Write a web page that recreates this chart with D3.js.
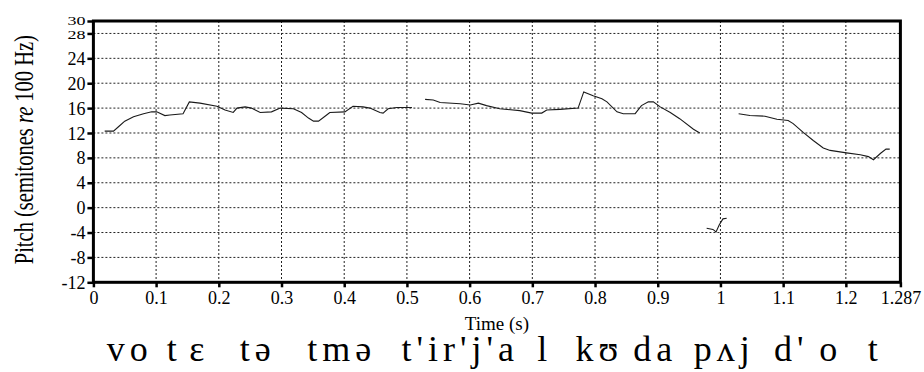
<!DOCTYPE html>
<html>
<head>
<meta charset="utf-8">
<script src="https://cdn.jsdelivr.net/npm/d3@7"></script>
<style>
  body { margin: 0; background: #fff; }
  svg text { font-family: "Liberation Serif", "DejaVu Serif", serif; fill: #000; }
</style>
</head>
<body>
<script>
// pitch track, [time (s), semitones re 100 Hz], one array per voiced stretch
var pitch1 = [[0.018,12.3],[0.032,12.3],[0.040,13.0],[0.050,13.9],[0.064,14.6],[0.080,15.1],[0.093,15.4],[0.101,15.4],
  [0.114,14.8],[0.122,14.9],[0.143,15.1],[0.153,17.0],[0.170,16.8],[0.197,16.3],[0.210,15.7],[0.223,15.3],[0.229,16.0],
  [0.242,16.2],[0.252,16.0],[0.266,15.3],[0.284,15.4],[0.298,16.0],[0.319,15.9],[0.332,15.3],[0.343,14.4],[0.351,13.9],
  [0.359,13.9],[0.372,14.9],[0.377,15.3],[0.401,15.4],[0.414,16.3],[0.430,16.2],[0.441,16.0],[0.457,15.3],[0.462,15.2],
  [0.470,15.9],[0.484,16.1],[0.508,16.1]];
var pitch2 = [[0.529,17.4],[0.542,17.3],[0.553,16.9],[0.585,16.7],[0.601,16.5],[0.614,16.8],[0.627,16.4],[0.648,15.9],
  [0.680,15.6],[0.699,15.2],[0.715,15.2],[0.723,15.7],[0.744,15.8],[0.773,16.0],[0.782,18.6],[0.797,18.0],[0.811,17.5],
  [0.819,17.0],[0.835,15.4],[0.845,15.1],[0.864,15.1],[0.874,16.4],[0.885,17.0],[0.893,17.0],[0.904,16.2],[0.920,15.3],
  [0.935,14.3],[0.957,12.6],[0.967,12.0]];
var pitch3 = [[0.978,-3.3],[0.988,-3.5],[0.993,-3.9],[0.998,-2.8],[1.004,-1.8],[1.010,-1.7]];
var pitch4 = [[1.029,15.1],[1.047,14.8],[1.071,14.7],[1.090,14.2],[1.108,14.0],[1.116,13.5],[1.132,12.1],[1.148,10.8],
  [1.164,9.6],[1.175,9.2],[1.201,8.8],[1.223,8.5],[1.236,8.2],[1.244,7.7],[1.255,8.7],[1.264,9.4],[1.270,9.4]];

var yTicks = [-12,-8,-4,0,4,8,12,16,20,24,28,30];
var xTicks = [0,0.1,0.2,0.3,0.4,0.5,0.6,0.7,0.8,0.9,1,1.1,1.2,1.287];
var xTickText = ["0","0.1","0.2","0.3","0.4","0.5","0.6","0.7","0.8","0.9","1","1.1","1.2","1.287"];

// transcription, [segment, centre time (s)]
var ipa = [["vo",0.054],["t",0.125],["ɛ",0.165],["tə",0.258],["tmə",0.392],["t'ir'j'a",0.581],["l",0.716],
  ["kʊ",0.803],["da",0.892],["pʌj",1.002],["d'",1.109],["o",1.172],["t",1.243]];

var SERIF = '"Liberation Serif", "DejaVu Serif", serif';
var W = 924, H = 372;
var svg = d3.select("body").append("svg").attr("width", W).attr("height", H)
  .style("font-family", SERIF);

var x = d3.scaleLinear().domain([0, 1.287]).range([93.4, 900.4]);
var y = d3.scaleLinear().domain([-12, 30]).range([282.3, 21]);

// dotted grid
svg.append("g").selectAll("line").data(yTicks.filter(d => d > -12 && d < 30)).join("line")
  .attr("x1", x(0)).attr("x2", x(1.287))
  .attr("y1", d => y(d)).attr("y2", d => y(d))
  .attr("stroke", "#222").attr("stroke-width", 1).attr("stroke-dasharray", "2,2");
svg.append("g").selectAll("line").data(xTicks.filter(d => d > 0 && d < 1.287)).join("line")
  .attr("x1", d => x(d)).attr("x2", d => x(d))
  .attr("y1", y(30)).attr("y2", y(-12))
  .attr("stroke", "#222").attr("stroke-width", 1).attr("stroke-dasharray", "2,2");

// pitch curves
var line = d3.line().x(d => x(d[0])).y(d => y(d[1]));
svg.append("g").selectAll("path").data([pitch1, pitch2, pitch3, pitch4]).join("path")
  .attr("d", line).attr("fill", "none").attr("stroke", "#1a1a1a").attr("stroke-width", 1.1);

// frame
svg.append("rect").attr("x", x(0)).attr("y", y(30))
  .attr("width", x(1.287) - x(0)).attr("height", y(-12) - y(30))
  .attr("fill", "none").attr("stroke", "#000").attr("stroke-width", 3);

// axes
var yAxis = svg.append("g").attr("transform", "translate(" + x(0) + ",0)")
  .call(d3.axisLeft(y).tickValues(yTicks).tickSize(6).tickPadding(2).tickFormat(d => String(d)));
var xAxis = svg.append("g").attr("transform", "translate(0," + y(-12) + ")")
  .call(d3.axisBottom(x).tickValues(xTicks).tickSize(5).tickPadding(3).tickFormat((d, i) => xTickText[i]));
[yAxis, xAxis].forEach(function(a) {
  a.attr("font-family", null);
  a.select(".domain").remove();
  a.selectAll(".tick line").attr("stroke", "#000").attr("stroke-width", 2.5);
  a.selectAll(".tick text").attr("font-size", 18);
});
yAxis.selectAll(".tick text").attr("dy", "0.34em");
// the top two labels are squeezed together in the original
yAxis.selectAll(".tick text").filter(d => d >= 28)
  .attr("transform", d => d == 30 ? "translate(0,-1) scale(1,0.72)" : "translate(0,1) scale(1,0.72)");
xAxis.selectAll(".tick text").attr("dy", "0.78em");

// axis titles
var yt = svg.append("text")
  .attr("transform", "translate(33," + ((y(30) + y(-12)) / 2 - 2) + ") rotate(-90) scale(1,1.35)")
  .attr("text-anchor", "middle").attr("font-size", 20.5);
yt.append("tspan").text("Pitch (semitones ");
yt.append("tspan").attr("font-style", "italic").text("re");
yt.append("tspan").text(" 100 Hz)");

svg.append("text").attr("x", (x(0) + x(1.287)) / 2).attr("y", 330)
  .attr("text-anchor", "middle").attr("font-size", 19).text("Time (s)");

// IPA transcription under the axis
svg.append("g").selectAll("text").data(ipa).join("text")
  .attr("x", d => x(d[1])).attr("dx", 2.5).attr("y", 361)
  .attr("text-anchor", "middle").attr("font-size", 36).attr("letter-spacing", 5)
  .text(d => d[0]);
</script>
</body>
</html>
